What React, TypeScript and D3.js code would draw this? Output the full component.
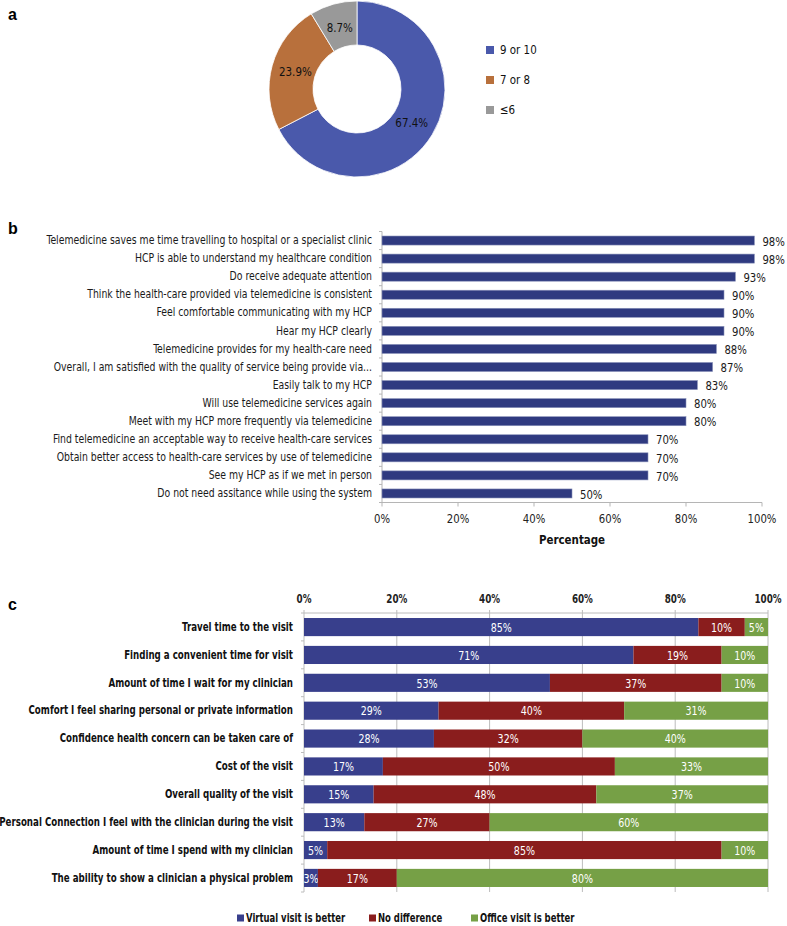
import React from "react";
import * as d3 from "d3";

const donutCategories = ["9 or 10", "7 or 8", "≤6"];
const donutValues = [67.4, 23.9, 8.7];
const donutColors = ["#4a59ab", "#b8703c", "#999999"];

const satisfactionItems = [
  "Telemedicine saves me time travelling to hospital or a specialist clinic",
  "HCP is able to understand my healthcare condition",
  "Do receive adequate attention",
  "Think the health-care provided via telemedicine is consistent",
  "Feel comfortable communicating with my HCP",
  "Hear my HCP clearly",
  "Telemedicine provides for my health-care need",
  "Overall, I am satisfied with the quality of service being provide via...",
  "Easily talk to my HCP",
  "Will use telemedicine services again",
  "Meet with my HCP more frequently via telemedicine",
  "Find telemedicine an acceptable way to receive health-care services",
  "Obtain better access to health-care services by use of telemedicine",
  "See my HCP as if we met in person",
  "Do not need assitance while using the system",
];
const satisfactionValues = [98, 98, 93, 90, 90, 90, 88, 87, 83, 80, 80, 70, 70, 70, 50];
const percentTicks = [0, 20, 40, 60, 80, 100];

const comparisonItems = [
  "Travel time to the visit",
  "Finding a convenient time for visit",
  "Amount of time I wait for my clinician",
  "Comfort I feel sharing personal or private information",
  "Confidence health concern can be taken care of",
  "Cost of the visit",
  "Overall quality of the visit",
  "Personal Connection I feel with the clinician during the visit",
  "Amount of time I spend with my clinician",
  "The ability to show a clinician a physical problem",
];
const virtualBetter = [85, 71, 53, 29, 28, 17, 15, 13, 5, 3];
const noDifference = [10, 19, 37, 40, 32, 50, 48, 27, 85, 17];
const officeBetter = [5, 10, 10, 31, 40, 33, 37, 60, 10, 80];
const comparisonSeries = ["Virtual visit is better", "No difference", "Office visit is better"];
const comparisonColors = ["#383f8c", "#8a1d1d", "#76a046"];

const FONT = "'DejaVu Sans Condensed', 'Liberation Sans Narrow', Roboto, sans-serif";

type TProps = {
  x: number;
  y: number;
  sx?: number;
  size: number;
  anchor?: "start" | "middle" | "end";
  bold?: boolean;
  fill?: string;
  children: React.ReactNode;
};

function T({ x, y, sx = 1, size, anchor = "start", bold = false, fill = "#111", children }: TProps) {
  return (
    <text
      transform={`translate(${x},${y}) scale(${sx},1)`}
      textAnchor={anchor}
      dominantBaseline="central"
      fontFamily={FONT}
      fontSize={size}
      fontWeight={bold ? "bold" : "normal"}
      fill={fill}
    >
      {children}
    </text>
  );
}

function Donut() {
  const cx = 357, cy = 89, rOuter = 88, rInner = 44;
  const pie = d3.pie<number>().sort(null).value((d) => d);
  const arcs = pie(donutValues);
  const arc = d3.arc<d3.PieArcDatum<number>>().innerRadius(rInner).outerRadius(rOuter);
  const labelArc = d3.arc<d3.PieArcDatum<number>>().innerRadius(64).outerRadius(64);
  const legendY = d3.scalePoint<string>().domain(donutCategories).range([50, 110]);
  return (
    <g>
      <text x={8} y={20} fontFamily="Arial, 'Liberation Sans', sans-serif" fontWeight="bold" fontSize={16}>a</text>
      <g transform={`translate(${cx},${cy})`}>
        {arcs.map((a, i) => (
          <path key={i} d={arc(a) || ""} fill={donutColors[i]} stroke="#fff" strokeWidth={0.8} />
        ))}
        {arcs.map((a, i) => {
          const [x, y] = labelArc.centroid(a);
          return (
            <T key={i} x={x} y={y} sx={0.88} size={13} anchor="middle" fill="#111">
              {donutValues[i].toFixed(1)}%
            </T>
          );
        })}
      </g>
      {donutCategories.map((c, i) => (
        <g key={c} transform={`translate(486,${legendY(c)})`}>
          <rect x={0} y={-4} width={8} height={8} fill={donutColors[i]} />
          <T x={14} y={0} sx={0.88} size={13}>{c}</T>
        </g>
      ))}
    </g>
  );
}

function SatisfactionBars() {
  const x = d3.scaleLinear().domain([0, 100]).range([382, 762]);
  const top = 231.5, bottom = 502.5;
  const y = d3.scaleBand<string>().domain(satisfactionItems).range([top, bottom]).paddingInner(0.5).paddingOuter(0.25);
  const boundaries = d3.range(satisfactionItems.length + 1).map((i) => top + (i * (bottom - top)) / satisfactionItems.length);
  return (
    <g>
      <text x={8} y={234} fontFamily="Arial, 'Liberation Sans', sans-serif" fontWeight="bold" fontSize={16}>b</text>
      <line x1={x(0)} x2={x(0)} y1={top} y2={bottom} stroke="#b5b5b5" />
      {boundaries.map((b, i) => (
        <line key={i} x1={x(0) - 3} x2={x(0)} y1={b} y2={b} stroke="#b5b5b5" />
      ))}
      <line x1={x(0)} x2={x(100)} y1={bottom} y2={bottom} stroke="#b5b5b5" />
      {percentTicks.map((t) => (
        <g key={t}>
          <line x1={x(t)} x2={x(t)} y1={bottom} y2={bottom + 4} stroke="#b5b5b5" />
          <T x={x(t)} y={519} sx={0.9} size={12.5} anchor="middle" fill="#222">{t}%</T>
        </g>
      ))}
      <T x={(x(0) + x(100)) / 2} y={540} sx={0.88} size={13} anchor="middle" bold>Percentage</T>
      {satisfactionItems.map((c, i) => {
        const yy = y(c)!;
        const h = y.bandwidth();
        return (
          <g key={c}>
            <rect x={x(0)} y={yy} width={x(satisfactionValues[i]) - x(0)} height={h} fill="#2f3a80" stroke="#8890b8" strokeWidth={0.6} />
            <T x={372} y={yy + h / 2} sx={0.9} size={11.5} anchor="end" fill="#1a1a1a">{c}</T>
            <T x={x(satisfactionValues[i]) + 8} y={yy + h / 2 + 1} sx={0.9} size={12.5} fill="#1a1a1a">{satisfactionValues[i]}%</T>
          </g>
        );
      })}
    </g>
  );
}

function ComparisonBars() {
  const x = d3.scaleLinear().domain([0, 100]).range([304, 768]);
  const top = 613, bottom = 892;
  const y = d3.scaleBand<string>().domain(comparisonItems).range([top, bottom]).paddingInner(0.35).paddingOuter(0.18);
  const stackInput = comparisonItems.map((c, i) => ({ item: c, v0: virtualBetter[i], v1: noDifference[i], v2: officeBetter[i] }));
  const stack = d3.stack<any>().keys(["v0", "v1", "v2"]);
  const layers = stack(stackInput);
  const boundaries = d3.range(comparisonItems.length + 1).map((i) => top + (i * (bottom - top)) / comparisonItems.length);
  const legendX = [237, 369, 471];
  return (
    <g>
      <text x={8} y={610} fontFamily="Arial, 'Liberation Sans', sans-serif" fontWeight="bold" fontSize={16}>c</text>
      {percentTicks.map((t) => (
        <g key={t}>
          <line x1={x(t)} x2={x(t)} y1={top} y2={bottom} stroke="#bcbcbc" strokeWidth={1} />
          <line x1={x(t)} x2={x(t)} y1={top - 3} y2={top} stroke="#bcbcbc" />
          <T x={x(t)} y={599} sx={0.85} size={11.5} anchor="middle" bold fill="#222">{t}%</T>
        </g>
      ))}
      <line x1={x(0)} x2={x(100)} y1={top} y2={top} stroke="#bcbcbc" />
      {boundaries.map((b, i) => (
        <line key={i} x1={x(0) - 3} x2={x(0)} y1={b} y2={b} stroke="#bcbcbc" />
      ))}
      {layers.map((layer, li) => (
        <g key={li}>
          {layer.map((seg, i) => {
            const yy = y(comparisonItems[i])!;
            const h = y.bandwidth();
            const x0 = x(seg[0]), x1 = x(seg[1]);
            const val = seg[1] - seg[0];
            return (
              <g key={i}>
                <rect x={x0} y={yy} width={x1 - x0} height={h} fill={comparisonColors[li]} />
                <T x={(x0 + x1) / 2} y={yy + h / 2 + 1} sx={0.88} size={12} anchor="middle" fill="#fff">{val}%</T>
              </g>
            );
          })}
        </g>
      ))}
      {comparisonItems.map((c) => (
        <T key={c} x={293} y={y(c)! + y.bandwidth() / 2} sx={0.84} size={11.5} anchor="end" bold>{c}</T>
      ))}
      {comparisonSeries.map((s, i) => (
        <g key={s} transform={`translate(${legendX[i]},918)`}>
          <rect x={0} y={-3.5} width={7} height={7} fill={comparisonColors[i]} />
          <T x={9} y={0} sx={0.82} size={11.5} bold>{s}</T>
        </g>
      ))}
    </g>
  );
}

export default function App() {
  return (
    <svg width={787} height={926} style={{ position: "absolute", left: 0, top: 0, background: "#fff" }}>
      <rect x={0} y={0} width={787} height={926} fill="#fff" />
      <Donut />
      <SatisfactionBars />
      <ComparisonBars />
    </svg>
  );
}
